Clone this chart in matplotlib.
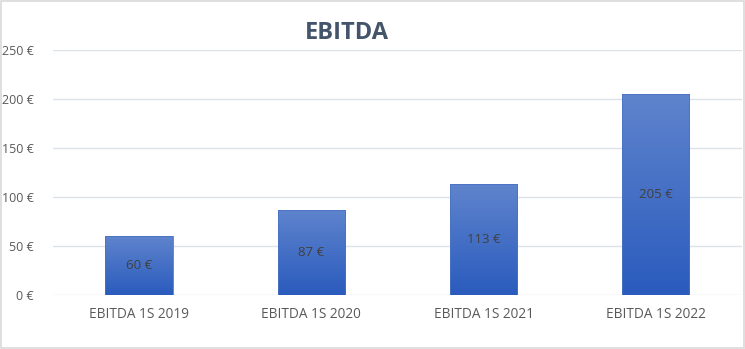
import matplotlib.pyplot as plt
import numpy as np
from matplotlib.colors import LinearSegmentedColormap
from matplotlib.patches import Rectangle

categories = ['EBITDA 1S 2019', 'EBITDA 1S 2020', 'EBITDA 1S 2021', 'EBITDA 1S 2022']
values = [60, 87, 113, 205]
yticks = [0, 50, 100, 150, 200, 250]

plt.rcParams['font.family'] = ['Open Sans', 'DejaVu Sans']

fig = plt.figure(figsize=(7.45, 3.49), dpi=100)
ax = fig.add_axes([0.071, 0.155, 0.925, 0.702])

# light frame round the whole chart
fig.patches.append(Rectangle((0.002, 0.003), 0.996, 0.994, transform=fig.transFigure,
                             fill=False, edgecolor='#D9D9D9', linewidth=1.2))

x = np.arange(len(categories))
bars = ax.bar(x, values, width=0.39, color='none', edgecolor='#4A72C4', linewidth=0.6, zorder=3)

# vertical gradient, lighter at the top
cmap = LinearSegmentedColormap.from_list('grad', ['#2A5BBD', '#5F84CD'])
grad = np.linspace(0, 1, 256).reshape(-1, 1)
for b in bars:
    x0, y0, w, h = b.get_x(), b.get_y(), b.get_width(), b.get_height()
    im = ax.imshow(grad, cmap=cmap, origin='lower', aspect='auto',
                   extent=[x0, x0 + w, y0, y0 + h], zorder=2)
    im.set_clip_path(b)

for xi, v in zip(x, values):
    ax.text(xi, v / 2, f'{v} €', ha='center', va='center', fontsize=9.5,
            color='#404040', zorder=4)

ax.set_xlim(-0.5, len(categories) - 0.5)
ax.set_ylim(0, 250)
ax.set_yticks(yticks)
ax.set_yticklabels([f'{t} €' for t in yticks])
ax.set_xticks(x)
ax.set_xticklabels(categories)
ax.tick_params(axis='both', length=0, labelsize=9, colors='#595959')
ax.tick_params(axis='x', labelsize=9.8, pad=9)
ax.tick_params(axis='y', pad=14)
ax.grid(axis='y', color='#DCE2EA', linewidth=1, zorder=0)
ax.set_axisbelow(True)
for s in ax.spines.values():
    s.set_visible(False)

fig.text(0.466, 0.905, 'EBITDA', ha='center', va='center', fontsize=17,
         fontweight='bold', color='#44546A')

fig.savefig('out.png', dpi=100)
